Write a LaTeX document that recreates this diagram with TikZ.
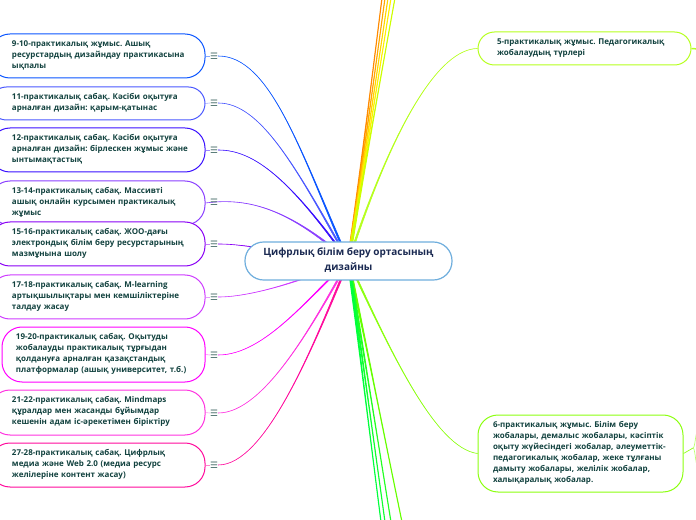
\documentclass[tikz,border=0pt]{standalone}
\usepackage{fontspec}
\setmainfont{Open Sans}
\newfontfamily\symfont{DejaVu Sans}
\usetikzlibrary{backgrounds,calc}
\definecolor{txt}{HTML}{12423F}
\definecolor{hubtxt}{HTML}{1B2A52}
\definecolor{hubline}{HTML}{6FAEDD}
\definecolor{ca}{HTML}{0A55FF}
\definecolor{cb}{HTML}{4A58FF}
\definecolor{cc}{HTML}{3A10FF}
\definecolor{cd}{HTML}{8B40FF}
\definecolor{ce}{HTML}{8A00F5}
\definecolor{cf}{HTML}{CE3CFF}
\definecolor{cg}{HTML}{FF00FF}
\definecolor{ch}{HTML}{FF33E0}
\definecolor{ci}{HTML}{FF0A9C}
\definecolor{cj}{HTML}{B6FF1E}
\definecolor{ck}{HTML}{8CFF10}
\definecolor{o1}{HTML}{FF8A00}
\definecolor{o2}{HTML}{FFA800}
\definecolor{o3}{HTML}{FFD500}
\definecolor{o4}{HTML}{FFF000}
\definecolor{o5}{HTML}{CCFF00}
\definecolor{g1}{HTML}{00FF3C}
\definecolor{g2}{HTML}{10FF30}
\definecolor{g3}{HTML}{22FF22}
\definecolor{g4}{HTML}{66FF00}
\tikzset{
  lbox/.style={draw, line width=0.75pt, fill=white, text=txt, inner ysep=0pt,
    font=\fontsize{6pt}{8.25pt}\selectfont\bfseries\frenchspacing},
  hubbox/.style={draw=hubline, line width=0.9pt, fill=white, text=hubtxt, inner ysep=0pt,
    font=\fontsize{7.5pt}{11.2pt}\selectfont\bfseries\frenchspacing},
  menu/.style={text=txt!80, inner sep=0pt, font=\symfont\fontsize{6.6pt}{6.6pt}\selectfont},
  stub/.style={line width=0.4pt}
}
% name, x1, y1, x2, y2, pad, radius, colour, text
\newcommand{\topic}[9]{%
  \pgfmathsetmacro{\bw}{(#4-#2)*0.75}%
  \pgfmathsetmacro{\bh}{(#5-#3)*0.75}%
  \pgfmathsetmacro{\bp}{#6*0.75}%
  \pgfmathsetmacro{\bt}{\bw-2*\bp}%
  \pgfmathsetmacro{\br}{#7*0.75}%
  \node[lbox, draw=#8, minimum width=\bw pt, minimum height=\bh pt, inner xsep=\bp pt,
        text width=\bt pt, rounded corners=\br pt] (#1) at ({(#2+#4)/2},{(#3+#5)/2})
        {\makebox[\bt pt][l]{\raisebox{-0.9pt}[0pt][0pt]{\begin{tabular}{@{}l@{}}#9\end{tabular}}}};%
}
\newcommand{\clw}{0.45pt}
% colour, start, c1, c2, end, dx, dy (half width at the thick end)
\newcommand{\conn}[7]{%
  \draw[#1, line width=\clw, fill=#1] #2 .. controls #3 and #4 .. ($#5+(#6,#7)$)
     -- ($#5-(#6,#7)$) .. controls #4 and #3 .. #2 -- cycle;%
}
\begin{document}
\begin{tikzpicture}[x=0.75pt,y=-0.75pt]
\useasboundingbox (0,0) rectangle (696,520);
\clip (0,0) rectangle (696,520);

\topic{l1}{-10}{34}{205}{78}{22}{20}{ca}{9-10-практикалық жұмыс. Ашық\\ресурстардың дизайндау практикасына\\ықпалы}
\topic{l2}{-10}{87}{205}{120}{22}{16.5}{cb}{11-практикалық сабақ. Кәсіби оқытуға\\арналған дизайн: қарым-қатынас}
\topic{l3}{-10}{128}{205}{172}{22}{20}{cc}{12-практикалық сабақ. Кәсіби оқытуға\\арналған дизайн: бірлескен жұмыс және\\ынтымақтастық}
\topic{l4}{-10}{181}{205}{225}{22}{20}{cd}{13-14-практикалық сабақ. Массивті\\ашық онлайн курсымен практикалық\\жұмыс}
\topic{l5}{-10}{222}{205}{266}{22}{20}{ce}{15-16-практикалық сабақ. ЖОО-дағы\\электрондық білім беру ресурстарының\\мазмұнына шолу}
\topic{l6}{-10}{275}{205}{319}{22}{20}{cf}{17-18-практикалық сабақ. M-learning\\артықшылықтары мен кемшіліктеріне\\талдау жасау}
\topic{l7}{2}{327}{205}{382}{14}{20}{cg}{19-20-практикалық сабақ. Оқытуды\\жобалауды практикалық тұрғыдан\\қолдануға арналған қазақстандық\\платформалар (ашық университет, т.б.)}
\topic{l8}{-10}{390}{205}{435}{22}{20}{ch}{21-22-практикалық сабақ. Mindmaps\\құралдар мен жасанды бұйымдар\\кешенін адам іс-әрекетімен біріктіру}
\topic{l9}{-10}{443}{205}{487}{22}{20}{ci}{27-28-практикалық сабақ. Цифрлық\\медиа және Web 2.0 (медиа ресурс\\желілеріне контент жасау)}
\topic{r1}{478}{32}{691}{65}{19}{16.5}{cj}{5-практикалық жұмыс. Педагогикалық\\жобалаудың түрлері}
\topic{r2}{478}{415}{683}{492}{15}{20}{ck}{6-практикалық жұмыс. Білім беру\\жобалары, демалыс жобалары, кәсіптік\\оқыту жүйесіндегі жобалар, әлеуметтік-\\педагогикалық жобалар, жеке тұлғаны\\дамыту жобалары, желілік жобалар,\\халықаралық жобалар.}

\node[hubbox, minimum width=155.25pt, minimum height=28.5pt, inner xsep=0pt, rounded corners=14pt]
  (hub) at (348.5,261) {\raisebox{-1pt}[0pt][0pt]{\begin{tabular}{@{}c@{}}Цифрлық білім беру ортасының\\дизайны\end{tabular}}};

\node[menu] (m1) at (214,56) {☰};
\node[menu] (m2) at (214,103) {☰};
\node[menu] (m3) at (214,150) {☰};
\node[menu] (m4) at (214,202) {☰};
\node[menu] (m5) at (214,244) {☰};
\node[menu] (m6) at (214,297) {☰};
\node[menu] (m7) at (214,355) {☰};
\node[menu] (m8) at (214,413) {☰};
\node[menu] (m9) at (214,465) {☰};

\coordinate (t1) at (382,-2);
\coordinate (t2) at (385,-2);
\coordinate (t3) at (388,-2);
\coordinate (t4) at (391,-2);
\coordinate (t5) at (395,-2);
\coordinate (b1) at (381,522);
\coordinate (b2) at (385,522);
\coordinate (b3) at (391,522);
\coordinate (b4) at (402,522);
\coordinate (e1) at (698,49);
\coordinate (e2) at (698,428);
\coordinate (e3) at (698,470);
\coordinate (e4) at (693,448);

\begin{scope}[on background layer]
\foreach \n/\c in {1/ca,2/cb,3/cc,5/ce,6/cf,7/cg,8/ch,9/ci}{
  \draw[\c!50, stub] (l\n.east) -- (m\n.west);
}
\conn{ca}{(m1.east)}{(270,56)}{(300,150)}{(hub.center)}{1}{0}
\conn{cb}{(m2.east)}{(260,103)}{(295,165)}{(hub.center)}{1}{0}
\conn{cc}{(m3.east)}{(255,150)}{(290,180)}{(hub.center)}{1}{0}
\conn{cd}{(l4.east)}{(250,197)}{(290,210)}{(hub.center)}{0.8}{-0.8}
\conn{ce}{(m5.east)}{(235,244)}{(250,246)}{(hub.center)}{0}{1}
\conn{cf}{(m6.east)}{(250,297)}{(300,282)}{(hub.center)}{0.3}{1}
\conn{cg}{(m7.east)}{(265,355)}{(310,295)}{(hub.center)}{0.8}{0.6}
\conn{ch}{(m8.east)}{(265,413)}{(315,320)}{(hub.center)}{1}{0.3}
\conn{ci}{(m9.east)}{(265,465)}{(312,350)}{(hub.center)}{1}{0.2}
\conn{cj}{(r1.west)}{(440,49)}{(395,120)}{(hub.center)}{1}{0}
\conn{ck}{(r2.west)}{(435,448)}{(390,350)}{(hub.center)}{1}{0}
\renewcommand{\clw}{0.85pt}
\conn{o1}{(t1)}{(371,86)}{(360,173)}{(hub.center)}{1}{0}
\conn{o2}{(t2)}{(373,86)}{(361,173)}{(hub.center)}{1}{0}
\conn{o3}{(t3)}{(375,86)}{(362,173)}{(hub.center)}{1}{0}
\conn{o4}{(t4)}{(377,86)}{(363,173)}{(hub.center)}{1}{0}
\conn{o5}{(t5)}{(379,86)}{(364,173)}{(hub.center)}{1}{0}
\conn{g4}{(b4)}{(384,435)}{(367,348)}{(hub.center)}{1}{0}
\conn{g3}{(b3)}{(377,435)}{(363,348)}{(hub.center)}{1}{0}
\conn{g2}{(b2)}{(373,435)}{(361,348)}{(hub.center)}{1}{0}
\conn{g1}{(b1)}{(370,435)}{(359,348)}{(hub.center)}{1}{0}
\draw[cj, line width=1.1pt] (r1.east) -- (e1);
\draw[ck, line width=0.5pt] (r2.east) -- (e4);
\draw[ck!60, line width=0.5pt] (e4) .. controls (695,448) and (695,436) .. (e2);
\draw[ck!60, line width=0.5pt] (e4) .. controls (695,448) and (695,460) .. (e3);
\end{scope}
\end{tikzpicture}
\end{document}
